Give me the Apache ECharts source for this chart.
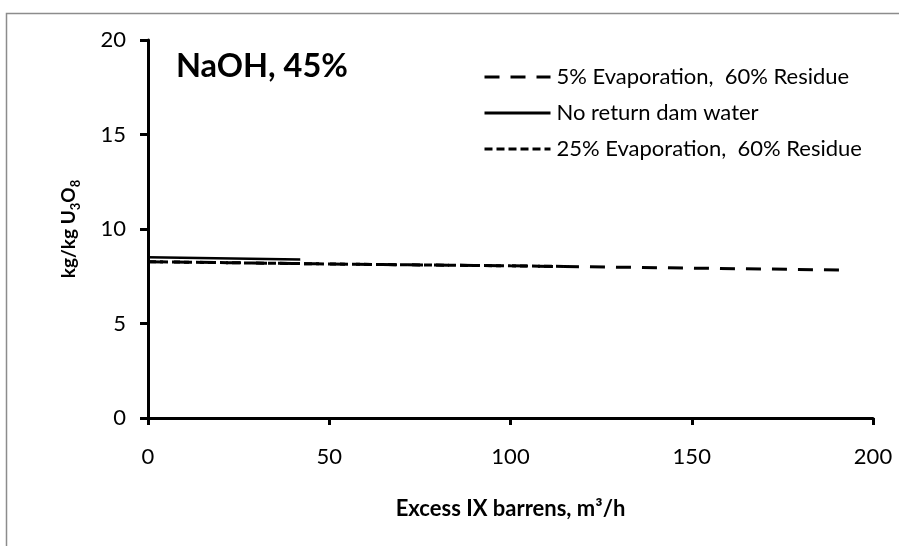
<!DOCTYPE html>
<html>
<head>
<meta charset="utf-8">
<script src="https://cdn.jsdelivr.net/npm/echarts@6/dist/echarts.min.js"></script>
<style>
  html, body { margin: 0; padding: 0; background: #fff; }
  #main { width: 899px; height: 546px; }
</style>
</head>
<body>
<div id="main"></div>
<script>
// series data (x = excess IX barrens m3/h, y = kg/kg U3O8)
var seriesNames = ['5% Evaporation,  60% Residue', 'No return dam water', '25% Evaporation,  60% Residue'];
var evap5X = [0, 50, 100, 150, 192];
var evap5Y = [8.27, 8.15, 8.05, 7.93, 7.83];
var noReturnX = [0, 42];
var noReturnY = [8.5, 8.38];
var evap25X = [0, 50, 100, 116];
var evap25Y = [8.27, 8.15, 8.05, 8.02];
var xTicks = [0, 50, 100, 150, 200];
var yTicks = [0, 5, 10, 15, 20];

function pairs(xs, ys) {
    var out = [];
    for (var i = 0; i < xs.length; i++) {
        out.push([xs[i], ys[i]]);
    }
    return out;
}

var font = 'Lato';

var option = {
    animation: false,
    backgroundColor: '#fff',
    title: {
        text: 'NaOH, 45%',
        left: 171,
        top: 45,
        textStyle: { fontFamily: font, fontWeight: 'bold', fontSize: 32.5, color: '#000' }
    },
    graphic: [
        {
            type: 'rect',
            shape: { x: 6.5, y: 13.5, width: 1200, height: 1200 },
            style: { fill: 'none', stroke: '#8c8c8c', lineWidth: 1.5 },
            silent: true
        }
    ],
    legend: {
        orient: 'vertical',
        left: 478,
        top: 61,
        itemWidth: 66,
        itemHeight: 12,
        itemGap: 14,
        itemStyle: { opacity: 0 },
        lineStyle: { width: 3 },
        textStyle: { fontFamily: font, fontSize: 22, color: '#000', padding: [0, 0, 0, 1] },
        data: seriesNames
    },
    grid: { left: 148, right: 26, top: 40, bottom: 128 },
    xAxis: {
        type: 'value',
        min: 0,
        max: 200,
        interval: 50,
        name: 'Excess IX barrens, m\u00b3/h',
        nameLocation: 'middle',
        nameGap: 80,
        nameTextStyle: { fontFamily: font, fontWeight: 'bold', fontSize: 22, color: '#000' },
        axisLine: { lineStyle: { color: '#000', width: 3 } },
        axisTick: { show: true, length: 7, lineStyle: { color: '#000', width: 3 } },
        axisLabel: {
            fontFamily: font, fontSize: 22, color: '#000', margin: 28,
            formatter: function (v) { return xTicks.indexOf(v) >= 0 ? String(v) : ''; }
        },
        splitLine: { show: false }
    },
    yAxis: {
        type: 'value',
        min: 0,
        max: 20,
        interval: 5,
        name: '{m|kg/kg U}{s|3}{m|O}{s|8}',
        nameLocation: 'middle',
        nameGap: 70,
        nameTextStyle: {
            color: '#000',
            rich: {
                m: { fontFamily: font, fontWeight: 'bold', fontSize: 19, lineHeight: 24, verticalAlign: 'bottom', color: '#000' },
                s: { fontFamily: font, fontWeight: 'bold', fontSize: 13, lineHeight: 24, verticalAlign: 'bottom', color: '#000', padding: [0, 0, -4, 0] }
            }
        },
        axisLine: { show: true, lineStyle: { color: '#000', width: 3 } },
        axisTick: { show: true, length: 8, lineStyle: { color: '#000', width: 3 } },
        axisLabel: {
            fontFamily: font, fontSize: 22, color: '#000', margin: 22,
            formatter: function (v) { return yTicks.indexOf(v) >= 0 ? String(v) : ''; }
        },
        splitLine: { show: false }
    },
    series: [
        {
            name: seriesNames[0],
            type: 'line',
            data: pairs(evap5X, evap5Y),
            symbol: 'none',
            lineStyle: { color: '#000', width: 3, type: [15, 11] },
            itemStyle: { color: '#000' }
        },
        {
            name: seriesNames[1],
            type: 'line',
            data: pairs(noReturnX, noReturnY),
            symbol: 'none',
            lineStyle: { color: '#000', width: 2.5, type: 'solid' },
            itemStyle: { color: '#000' }
        },
        {
            name: seriesNames[2],
            type: 'line',
            data: pairs(evap25X, evap25Y),
            symbol: 'none',
            lineStyle: { color: '#000', width: 3, type: [8, 4] },
            itemStyle: { color: '#000' }
        }
    ]
};

var chart = echarts.init(document.getElementById('main'));
chart.setOption(option);
</script>
</body>
</html>
